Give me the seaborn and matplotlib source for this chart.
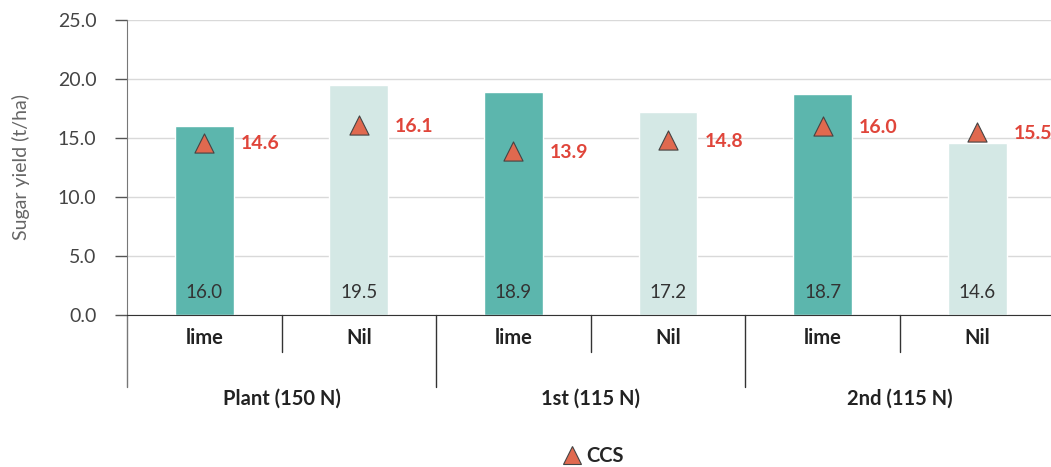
import pandas as pd
import matplotlib.pyplot as plt
import matplotlib.transforms as mtrans
from matplotlib.lines import Line2D
import seaborn as sns

crops = ['Plant (150 N)', '1st (115 N)', '2nd (115 N)']
treatments = ['lime', 'Nil', 'lime', 'Nil', 'lime', 'Nil']
sugar_yield = [16.0, 19.5, 18.9, 17.2, 18.7, 14.6]
ccs = [14.6, 16.1, 13.9, 14.8, 16.0, 15.5]

df = pd.DataFrame({
    'slot': [f'{c}|{t}' for c in crops for t in ['lime', 'Nil']],
    'treatment': treatments,
    'sugar_yield': sugar_yield,
    'ccs': ccs,
})

sns.set_style('white')
plt.rcParams['font.family'] = ['Lato', 'DejaVu Sans']

fig = plt.figure(figsize=(10.51, 4.67), dpi=100)
ax = fig.add_axes([0.1208, 0.3255, 0.8826, 0.6317])

sns.barplot(data=df, x='slot', y='sugar_yield', hue='treatment',
            palette={'lime': '#5cb6ad', 'Nil': '#d4e8e5'}, saturation=1,
            dodge=False, width=0.38, legend=False, ax=ax, zorder=2)
sns.scatterplot(data=df, x='slot', y='ccs', marker='^', s=190,
                color='#e0694f', edgecolor='#444444', linewidth=0.8,
                legend=False, ax=ax, zorder=4)

for i, row in df.iterrows():
    ax.text(i, 1.9, f'{row.sugar_yield:.1f}', ha='center', va='center',
            fontsize=13.5, color='#333333', zorder=5)
    ax.text(i + 0.235, row.ccs - 0.1, f'{row.ccs:.1f}', ha='left', va='center',
            fontsize=14, fontweight='bold', color='#e0453a', zorder=5)

ax.set_xlim(-0.5, 5.5)
ax.set_ylim(0, 25)
ax.set_yticks([0, 5, 10, 15, 20, 25])
ax.set_yticklabels([f'{v:.1f}' for v in [0, 5, 10, 15, 20, 25]])
ax.tick_params(axis='y', left=True, length=9, width=1, color='#555555',
               labelsize=14, labelcolor='#444444', pad=13)
ax.set_xticks([])
ax.set_xlabel('')
ax.set_ylabel('Sugar yield (t/ha)', fontsize=14, color='#666666', labelpad=20)
ax.yaxis.grid(True, color='#d9d9d9', linewidth=1)
ax.set_axisbelow(True)

for side in ['top', 'right']:
    ax.spines[side].set_visible(False)
ax.spines['bottom'].set_color('#333333')
ax.spines['left'].set_color('#777777')

# category labels below the axis
trans = mtrans.blended_transform_factory(ax.transData, ax.transAxes)
for i, t in enumerate(treatments):
    ax.text(i, -0.078, t, transform=trans, ha='center', va='center',
            fontsize=14.5, fontweight='bold', color='#222222')
for j, c in enumerate(crops):
    ax.text(2 * j + 0.5, -0.285, c, transform=trans, ha='center', va='center',
            fontsize=14.5, fontweight='bold', color='#222222')

for x in [0.5, 2.5, 4.5]:
    ax.add_line(Line2D([x, x], [0, -0.125], transform=trans, color='#333333',
                       linewidth=1, clip_on=False))
for x in [1.5, 3.5]:
    ax.add_line(Line2D([x, x], [0, -0.244], transform=trans, color='#333333',
                       linewidth=1, clip_on=False))
ax.add_line(Line2D([-0.5, -0.5], [0, -0.244], transform=trans, color='#777777',
                   linewidth=1, clip_on=False))

handle = Line2D([], [], marker='^', linestyle='none', markersize=13.5,
                markerfacecolor='#e0694f', markeredgecolor='#444444',
                markeredgewidth=0.8)
fig.legend([handle], ['CCS'], loc='center', bbox_to_anchor=(0.563, 0.023),
           frameon=False, handletextpad=0.1, handlelength=1.2,
           prop={'weight': 'bold', 'size': 14.5})

fig.savefig('out.png', dpi=100)
